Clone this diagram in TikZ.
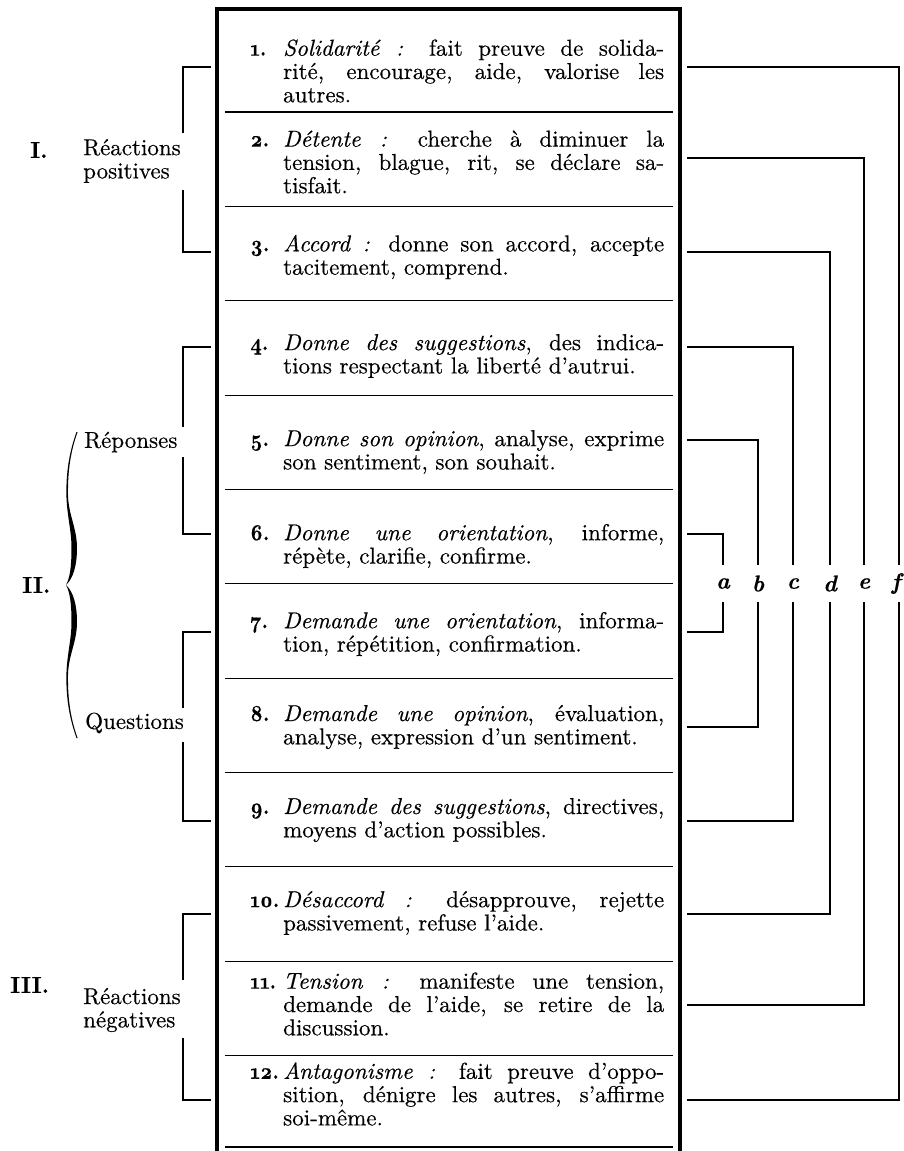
\RequirePackage{fix-cm}
\documentclass[tikz,border=0pt]{standalone}
\usepackage{fontspec}
\usepackage{graphicx}
\setmainfont{lmroman10-regular.otf}[FakeBold=0.4, ItalicFont=lmroman10-italic.otf, ItalicFeatures={FakeBold=0.5}, BoldFont=lmroman10-bold.otf, BoldItalicFont=lmroman10-bolditalic.otf]
\newcommand\itemfont{\fontsize{23}{23.3}\selectfont}
\newcommand\numb[1]{\makebox[33pt][l]{\scalebox{0.86}[1]{\textbf{\oldstylenums{#1}.}}}}
\newcommand\jl[1]{\makebox[381pt][s]{#1}}
\newcommand\ind{\hspace*{33pt}}
\begin{document}
\begin{tikzpicture}[x=1pt,y=-1pt,
  item/.style={anchor=west, align=left, inner sep=0pt, font=\itemfont},
  grp/.style={anchor=west, align=left, inner sep=0pt, font=\itemfont},
  roman/.style={anchor=west, inner sep=0pt, font=\itemfont\bfseries},
  letter/.style={inner sep=0pt, minimum height=37pt, minimum width=10pt, font=\itemfont\bfseries\itshape},
  conn/.style={line width=1.6pt},
  brk/.style={line width=1.3pt},
  sep/.style={line width=1.1pt},
  frame/.style={line width=3.6pt, line cap=rect}]
\useasboundingbox (0,0) rectangle (903,1151);
\fill[white] (0,0) rectangle (903,1151);

% frame of the table
\draw[frame] (217,1155) -- (217,9) -- (680,9) -- (680,1155);
% separators
\foreach \y in {112,206.4,300.7,395.1,489.4,583.8,678.2,772.5,866.9,961.2,1055.6,1147}
  \draw[sep] (225,\y) -- (673,\y);

% items
\node[item] (i1) at (250,71) {\numb{1}\jl{\textit{Solidarité :} fait preuve de solida-}\\
 \ind\jl{rité, encourage, aide, valorise les}\\ \ind autres.};
\node[item] (i2) at (250,162) {\numb{2}\jl{\textit{Détente :} cherche à diminuer la}\\
 \ind\jl{tension, blague, rit, se déclare sa-}\\ \ind tisfait.};
\node[item] (i3) at (250,257) {\numb{3}\jl{\textit{Accord :} donne son accord, accepte}\\
 \ind tacitement, comprend.};
\node[item] (i4) at (250,356) {\numb{4}\jl{\textit{Donne des suggestions}, des indica-}\\
 \ind tions respectant la liberté d’autrui.};
\node[item] (i5) at (250,452) {\numb{5}\jl{\textit{Donne son opinion}, analyse, exprime}\\
 \ind son sentiment, son souhait.};
\node[item] (i6) at (250,546) {\numb{6}\jl{\textit{Donne une orientation}, informe,}\\
 \ind répète, clarifie, confirme.};
\node[item] (i7) at (250,634) {\numb{7}\jl{\textit{Demande une orientation}, informa-}\\
 \ind tion, répétition, confirmation.};
\node[item] (i8) at (250,727) {\numb{8}\jl{\textit{Demande une opinion}, évaluation,}\\
 \ind analyse, expression d’un sentiment.};
\node[item] (i9) at (250,820) {\numb{9}\jl{\textit{Demande des suggestions}, directives,}\\
 \ind moyens d’action possibles.};
\node[item] (i10) at (250,913) {\numb{10}\jl{\textit{Désaccord :} désapprouve, rejette}\\
 \ind passivement, refuse l’aide.};
\node[item] (i11) at (250,1004) {\numb{11}\jl{\textit{Tension :} manifeste une tension,}\\
 \ind\jl{demande de l’aide, se retire de la}\\ \ind discussion.};
\node[item] (i12) at (250,1094) {\numb{12}\jl{\textit{Antagonisme :} fait preuve d’oppo-}\\
 \ind\jl{sition, dénigre les autres, s’affirme}\\ \ind soi-même.};

% tick points
\foreach \k/\t in {1/67,2/158,3/252,4/347,5/440,6/534,7/632,8/727,9/821,10/914,11/1005,12/1100}{
  \coordinate (L\k) at (211,\t);
  \coordinate (R\k) at (687,\t);
}

% left group labels
\node[roman] (n1) at (30,150) {I.};
\node[grp] (g1) at (83,161) {Réactions\\positives};
\node[grp] (g2) at (84,442) {Réponses};
\node[grp] (g3) at (85,723) {Questions};
\node[roman] (n2) at (22,585) {II.};
\node[roman] (n3) at (10,985) {III.};
\node[grp] (g4) at (83,1010) {Réactions\\négatives};

\coordinate (g1t) at (183,133); \coordinate (g1b) at (183,190);
\coordinate (g2t) at (183,427); \coordinate (g2b) at (183,457);
\coordinate (g3t) at (183,708); \coordinate (g3b) at (183,742);
\coordinate (g4t) at (183,980); \coordinate (g4b) at (183,1038);
\draw[brk] (L1) -| (g1t); \draw[brk] (L3) -| (g1b);
\draw[brk] (L4) -| (g2t); \draw[brk] (L6) -| (g2b);
\draw[brk] (L7) -| (g3t); \draw[brk] (L9) -| (g3b);
\draw[brk] (L10) -| (g4t); \draw[brk] (L12) -| (g4b);

% curly brace for II
\def\bracehalf{(76.5,432) .. controls (70,450) and (66,470) .. (66.4,495)
  .. controls (66.8,515) and (71.5,530) .. (71.5,548) .. controls (71.5,566) and (70,578) .. (66,585)
  .. controls (73.5,578) and (77,565) .. (77,548) .. controls (77,528) and (68.4,515) .. (68,495)
  .. controls (67.6,470) and (71,450) .. (77.6,432) -- cycle}
\fill \bracehalf;
\begin{scope}[shift={(0,1170)}, yscale=-1]
\fill \bracehalf;
\end{scope}

% right letters
\node[letter] (la) at (723,583.5) {a};
\node[letter] (lb) at (758,583.5) {b};
\node[letter] (lc) at (793,583.5) {c};
\node[letter] (ld) at (830,583.5) {d};
\node[letter] (le) at (864,583.5) {e};
\node[letter] (lf) at (896,583.5) {f};

\draw[conn] (R6) -| (la.north); \draw[conn] (R7) -| (la.south);
\draw[conn] (R5) -| (lb.north); \draw[conn] (R8) -| (lb.south);
\draw[conn] (R4) -| (lc.north); \draw[conn] (R9) -| (lc.south);
\draw[conn] (R3) -| (ld.north); \draw[conn] (R10) -| (ld.south);
\draw[conn] (R2) -| (le.north); \draw[conn] (R11) -| (le.south);
\draw[conn] (R1) -| ([xshift=3pt]lf.north); \draw[conn] (R12) -| ([xshift=3pt]lf.south);
\end{tikzpicture}
\end{document}
